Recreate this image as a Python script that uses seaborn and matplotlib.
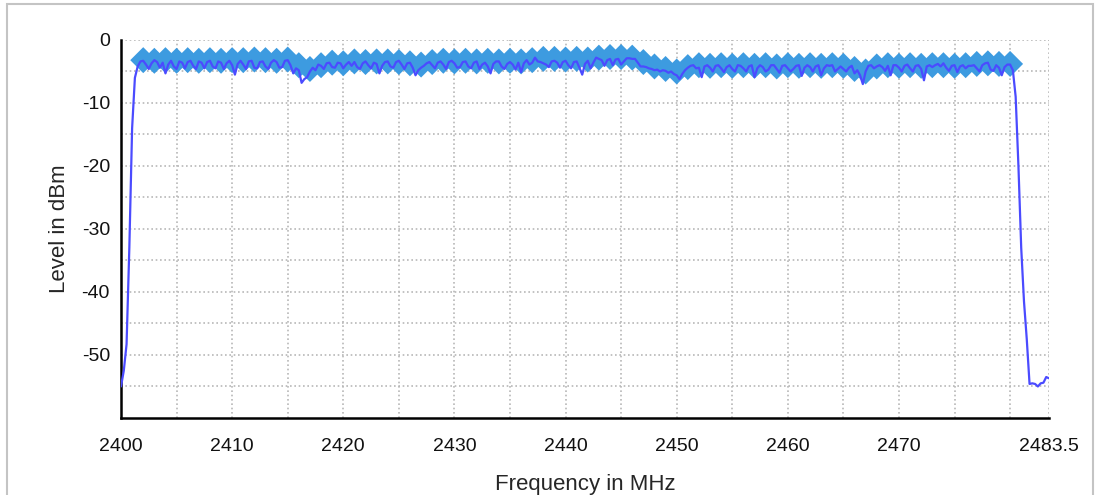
import numpy as np
import pandas as pd
import matplotlib
matplotlib.use("Agg")
import matplotlib.pyplot as plt
import seaborn as sns
from matplotlib.patches import Rectangle

# ---------------- data ----------------
freq_mhz = np.arange(2400.0, 2483.5 + 0.001, 0.25)
level_dbm = [
    -55.0, -52.5, -48.3, -33.0,   # 2400
    -14.0, -6.0, -4.2, -3.4,      # 2401
    -3.3, -3.9, -4.6, -3.7,       # 2402
    -3.2, -3.5, -4.4, -3.6,       # 2403
    -5.3, -3.9, -3.3, -4.2,       # 2404
    -4.6, -3.4, -3.6, -4.5,       # 2405
    -3.5, -3.3, -4.1, -4.6,       # 2406
    -3.4, -3.6, -4.5, -3.5,       # 2407
    -3.3, -4.2, -4.5, -3.4,       # 2408
    -3.6, -4.6, -3.7, -3.3,       # 2409
    -4.0, -5.5, -3.8, -3.3,       # 2410
    -3.9, -4.6, -3.4, -3.3,       # 2411
    -4.4, -4.5, -3.5, -3.4,       # 2412
    -4.2, -4.6, -3.6, -3.2,       # 2413
    -3.5, -4.4, -4.3, -3.3,       # 2414
    -3.2, -4.0, -5.3, -4.5,       # 2415
    -4.8, -6.8, -6.2, -5.9,       # 2416
    -5.0, -4.4, -4.8, -3.9,       # 2417
    -4.1, -4.6, -3.7, -3.6,       # 2418
    -4.3, -4.4, -3.6, -3.7,       # 2419
    -4.5, -3.9, -3.5, -4.1,       # 2420
    -3.5, -4.3, -4.6, -3.7,       # 2421
    -3.4, -4.0, -4.5, -3.6,       # 2422
    -3.8, -5.3, -4.1, -3.5,       # 2423
    -3.4, -4.2, -4.4, -3.5,       # 2424
    -3.3, -3.9, -4.6, -3.7,       # 2425
    -3.6, -4.4, -5.6, -4.8,       # 2426
    -4.4, -4.1, -3.7, -3.5,       # 2427
    -4.0, -4.5, -3.6, -3.4,       # 2428
    -3.9, -4.6, -3.5, -3.3,       # 2429
    -3.7, -4.4, -4.3, -3.5,       # 2430
    -3.4, -4.2, -4.5, -3.6,       # 2431
    -3.4, -4.6, -3.9, -3.6,       # 2432
    -4.2, -5.3, -3.8, -3.4,       # 2433
    -3.4, -4.2, -4.6, -3.8,       # 2434
    -3.5, -3.9, -4.7, -3.6,       # 2435
    -5.1, -3.7, -3.2, -3.9,       # 2436
    -3.6, -2.8, -3.4, -3.5,       # 2437
    -3.7, -3.9, -4.3, -3.4,       # 2438
    -3.3, -3.6, -4.4, -3.5,       # 2439
    -3.3, -4.0, -4.5, -3.5,       # 2440
    -3.4, -4.4, -5.5, -3.8,       # 2441
    -3.3, -4.5, -3.6, -2.8,       # 2442
    -3.0, -3.2, -4.1, -3.2,       # 2443
    -3.0, -4.0, -3.1, -3.0,       # 2444
    -3.9, -3.4, -2.9, -2.9,       # 2445
    -3.0, -3.0, -3.6, -4.2,       # 2446
    -4.2, -4.3, -4.5, -4.6,       # 2447
    -4.8, -4.7, -5.0, -4.8,       # 2448
    -4.9, -5.2, -5.0, -5.4,       # 2449
    -5.6, -6.2, -5.4, -4.8,       # 2450
    -4.4, -4.1, -4.0, -4.5,       # 2451
    -4.4, -5.9, -4.2, -4.0,       # 2452
    -4.4, -5.0, -4.1, -4.0,       # 2453
    -4.5, -5.1, -4.3, -4.0,       # 2454
    -4.6, -5.0, -4.0, -4.1,       # 2455
    -4.5, -5.0, -4.2, -4.0,       # 2456
    -5.9, -4.5, -4.0, -4.3,       # 2457
    -5.0, -4.7, -4.0, -4.0,       # 2458
    -4.6, -5.2, -4.1, -4.0,       # 2459
    -4.5, -5.0, -4.6, -4.1,       # 2460
    -4.0, -5.7, -4.4, -4.0,       # 2461
    -4.3, -5.0, -4.2, -4.0,       # 2462
    -5.6, -4.5, -4.0, -4.1,       # 2463
    -4.0, -5.0, -4.6, -4.2,       # 2464
    -4.6, -5.0, -4.4, -4.1,       # 2465
    -5.3, -4.8, -5.6, -7.0,       # 2466
    -5.0, -4.1, -4.0, -4.5,       # 2467
    -4.2, -4.0, -4.3, -4.9,       # 2468
    -4.1, -5.6, -4.0, -4.0,       # 2469
    -4.4, -5.0, -4.1, -3.9,       # 2470
    -4.5, -5.0, -4.1, -4.0,       # 2471
    -4.6, -6.4, -4.2, -4.0,       # 2472
    -4.3, -4.0, -3.8, -4.2,       # 2473
    -3.7, -4.4, -4.9, -4.1,       # 2474
    -4.0, -5.1, -4.2, -4.0,       # 2475
    -4.5, -4.1, -4.1, -4.0,       # 2476
    -4.5, -5.0, -4.0, -3.7,       # 2477
    -3.6, -4.7, -4.9, -4.0,       # 2478
    -4.4, -5.6, -4.3, -3.9,       # 2479
    -3.9, -4.8, -9.0, -20.0,      # 2480
    -33.0, -41.5, -47.5, -54.6,   # 2481
    -54.5, -54.6, -55.0, -54.5,   # 2482
    -54.4, -53.5, -53.7,          # 2483 .. 2483.5
]

channel_mhz = list(range(2402, 2481))
channel_peak_dbm = [
    -3.2, -3.3, -3.2, -3.3, -3.2, -3.3, -3.2, -3.3, -3.2, -3.2, -3.1, -3.2, -3.3,  # 2402-2414
    -3.1,                                                                        # 2415
    -4.0, -4.6, -4.0, -3.6, -3.7,                                                # 2416-2420
    -3.4, -3.5, -3.4, -3.4, -3.5, -3.7, -3.9, -3.5, -3.3, -3.4, -3.3,            # 2421-2431
    -3.4, -3.3, -3.4, -3.3, -3.4, -3.2, -3.0, -3.0, -3.1, -3.0, -3.1,            # 2432-2442
    -2.8, -2.7, -2.7, -2.8, -3.5, -4.2, -4.6, -5.0, -4.3, -4.0, -4.1,            # 2443-2453
    -4.0, -4.1, -4.0, -4.1, -4.0, -4.2, -4.0, -4.1, -4.0, -4.1,                  # 2454-2463
    -4.0, -4.1, -4.6, -5.0, -4.2, -4.0, -4.1, -4.0, -4.1, -4.0, -4.0,            # 2464-2474
    -4.1, -4.0, -3.8, -3.7, -3.8, -3.8,                                          # 2475-2480
]

x_ticks = [2400, 2405, 2410, 2415, 2420, 2425, 2430, 2435, 2440, 2445,
           2450, 2455, 2460, 2465, 2470, 2475, 2480, 2483.5]
x_tick_labels = ["2400", "", "2410", "", "2420", "", "2430", "", "2440", "",
                 "2450", "", "2460", "", "2470", "", "", "2483.5"]
y_ticks = [0, -5, -10, -15, -20, -25, -30, -35, -40, -45, -50, -55]
y_tick_labels = ["0", "", "-10", "", "-20", "", "-30", "", "-40", "", "-50", ""]

trace = pd.DataFrame({"Frequency": freq_mhz, "Level": level_dbm})
peaks = pd.DataFrame({"Frequency": channel_mhz, "Level": channel_peak_dbm})

# ---------------- plot ----------------
sns.set_style("white")
plt.rcParams["font.family"] = ["Liberation Sans", "DejaVu Sans"]

fig = plt.figure(figsize=(10.99, 4.95), dpi=100)
ax = fig.add_axes([0.1101, 0.1556, 0.8444, 0.7636])

sns.scatterplot(data=peaks, x="Frequency", y="Level", marker="D", s=175,
                color="#3d9be0", edgecolor="none", linewidth=0, ax=ax, zorder=3)
sns.lineplot(data=trace, x="Frequency", y="Level", color="#4b4bff",
             linewidth=1.6, ax=ax, zorder=4, estimator=None)

ax.set_xlim(2400, 2483.5)
ax.set_ylim(-60, 0)
ax.set_xticks(x_ticks)
ax.set_xticklabels(x_tick_labels)
ax.set_yticks(y_ticks)
ax.set_yticklabels(y_tick_labels)

ax.grid(True, color="#b8b8b8", linestyle=(0, (1.0, 1.6)), linewidth=1.2)
ax.set_axisbelow(True)

for side in ["top", "right"]:
    ax.spines[side].set_visible(False)
for side in ["left", "bottom"]:
    ax.spines[side].set_color("black")
    ax.spines[side].set_linewidth(1.8)

ax.tick_params(axis="both", direction="inout", length=10, width=1.5,
               color="black", labelsize=14, labelcolor="#111111")
ax.tick_params(axis="x", pad=9.5)
ax.tick_params(axis="y", pad=3)

ax.set_xlabel("Frequency in MHz", fontsize=16)
ax.set_ylabel("Level in dBm", fontsize=16)
ax.xaxis.set_label_coords(0.5, -0.148)
ax.yaxis.set_label_coords(-0.055, 0.5)

fig.patches.append(Rectangle((7 / 1099, -0.1), (1093 - 7) / 1099, 1.0 - 4 / 495 + 0.1,
                             transform=fig.transFigure, fill=False,
                             edgecolor="#c4c4c4", linewidth=1.5, zorder=0))

fig.savefig("out.png", dpi=100)
